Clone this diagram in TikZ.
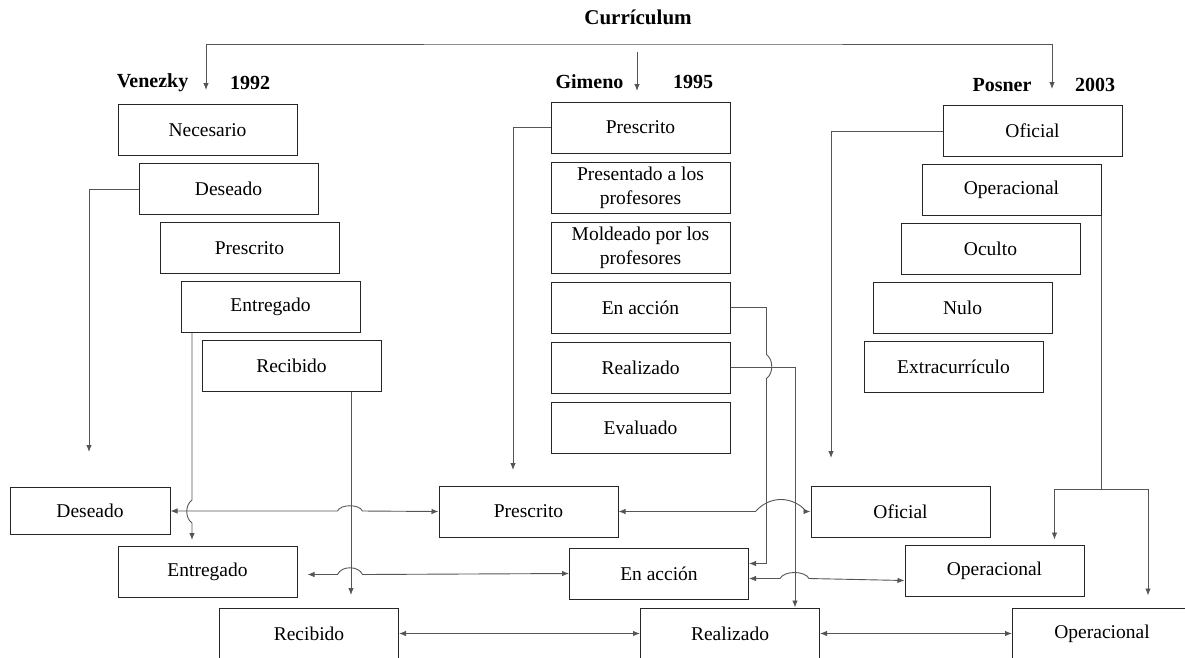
\documentclass[tikz,border=0pt]{standalone}
\usepackage{fontspec}
\setmainfont{Liberation Serif}
\usepackage{xcolor}
\definecolor{lineGray}{HTML}{555555}
\definecolor{boxBlack}{HTML}{262626}
\usepackage{tikz}
\usetikzlibrary{
    arrows.meta,
    positioning
}
\tikzset{
    % Stage boxes of every author column
    stage/.style={
        rectangle,
        draw=boxBlack,
        line width=1pt,
        minimum width=179pt,
        minimum height=51pt,
        align=center,
        inner sep=2pt,
        font=\fontsize{19.5}{24}\selectfont,
    },
    % Author and year headings
    author/.style={
        font=\bfseries\fontsize{20}{24}\selectfont,
        inner sep=0pt,
    },
    % Thin gray connector
    link/.style={
        draw=lineGray,
        line width=0.9pt,
        -{Latex[length=7pt,width=5.5pt]},
    },
    % Two-way connector
    link both/.style={
        link,
        {Latex[length=7pt,width=5.5pt]}-{Latex[length=7pt,width=5.5pt]},
    },
}

\begin{document}
\begin{tikzpicture}[x=1pt, y=-1pt, node distance=59pt]
    \useasboundingbox (0,0) rectangle (1185,657);

    \node (title) [font=\bfseries\fontsize{21}{24}\selectfont] at (638,17) {Currículum};
    \node (vzName) [author] at (152.5,83) {Venezky};
    \node (vzYear) [author] at (250,83) {1992};
    \node (gmName) [author] at (589.5,82) {Gimeno};
    \node (gmYear) [author] at (693,82) {1995};
    \node (psName) [author] at (1002,85) {Posner};
    \node (psYear) [author] at (1095,85) {2003};

    % Venezky column
    \node (vzNec) [stage] at (207.5,130) {Necesario};
    \node (vzDes) [stage, below of=vzNec, xshift=21pt] {Deseado};
    \node (vzPre) [stage, below of=vzDes, xshift=21pt] {Prescrito};
    \node (vzEnt) [stage, below of=vzPre, xshift=21pt] {Entregado};
    \node (vzRec) [stage, below of=vzEnt, xshift=21pt] {Recibido};

    % Gimeno column
    \node (gmPre) [stage] at (640.5,127.5) {Prescrito};
    \node (gmPro) [stage, node distance=60pt, below of=gmPre] {Presentado a los\\profesores};
    \node (gmMol) [stage, node distance=60pt, below of=gmPro] {Moldeado por los\\profesores};
    \node (gmAcc) [stage, node distance=60pt, below of=gmMol] {En acción};
    \node (gmRea) [stage, node distance=60pt, below of=gmAcc] {Realizado};
    \node (gmEva) [stage, node distance=60pt, below of=gmRea] {Evaluado};

    % Posner column
    \node (psOfi) [stage] at (1032.5,131) {Oficial};
    \node (psOpe) [stage, below of=psOfi, xshift=-21pt] {Operacional};
    \node (psOcu) [stage, below of=psOpe, xshift=-21pt] {Oculto};
    \node (psNul) [stage, below of=psOcu, xshift=-28pt] {Nulo};
    \node (psExt) [stage, below of=psNul, xshift=-9pt] {Extracurrículo};

    % Common rows
    \node (lowDes) [stage, minimum width=160pt, minimum height=47pt] at (90,511) {Deseado};
    \node (lowPre) [stage] at (528.5,511.5) {Prescrito};
    \node (lowOfi) [stage] at (900.5,511.5) {Oficial};
    \node (lowEnt) [stage] at (207.5,571.5) {Entregado};
    \node (lowAcc) [stage] at (659,573.5) {En acción};
    \node (lowOpe) [stage] at (994.5,570.5) {Operacional};
    \node (lowRec) [stage] at (309,633.5) {Recibido};
    \node (lowRea) [stage] at (730,633.5) {Realizado};
    \node (lowOpe2) [stage] at (1102,633.5) {Operacional};

    \coordinate (brTop) at (637,44);
    \coordinate (vzTip) at (206,90);
    \coordinate (psTip) at (1052,89);
    \coordinate (gmTail) at (637,52);
    \coordinate (gmTip) at (637,91);
    \coordinate (vzDesTip) at (89,452);
    \coordinate (vzEntTip) at (192,540);
    \coordinate (vzRecTip) at (351,595);
    \coordinate (gmPreTip) at (513,470);
    \coordinate (psOfiTip) at (831,458);
    \coordinate (psSplit) at (1101.5,489);

    \draw [link both] (vzTip) |- (brTop) -| (psTip);
    \draw [link] (gmTail) -- (gmTip);

    \draw [link] (vzDes.west) -| (vzDesTip);
    \draw [link] (vzEnt.south -| vzEntTip) -- ++(0,167) .. controls +(-7,5) and +(-7,-5) .. ++(0,23) -- (vzEntTip);
    \draw [link] (vzRec.south -| vzRecTip) -- (vzRecTip);

    \draw [link] (gmPre.west) -| (gmPreTip);
    \draw [link] (gmAcc.east) -- ++(36,0) -- ++(0,47) .. controls +(7,5) and +(7,-5) .. ++(0,24) |- ([yshift=10pt]lowAcc.east);
    \draw [link] (gmRea.east) -| ([xshift=65pt]lowRea.north);

    \draw [link] (psOfi.west) -| (psOfiTip);
    \draw [link, -] (psOpe.south east -| psSplit) -- (psSplit);
    \draw [link] (psSplit) -| ([xshift=-30pt,yshift=5pt]lowOpe.north east);
    \draw [link] (psSplit) -| ([xshift=136pt,yshift=12pt]lowOpe2.north west);

    \draw [link both] (lowDes.east) -- ++(167,0) .. controls +(3,-7) and +(-3,-7) .. ++(25,0) -- (lowPre.west);
    \draw [link both] ([xshift=10pt,yshift=-3pt]lowEnt.east) -- ++(30,0) .. controls +(4,-9) and +(-4,-9) .. ++(25,0) -- (lowAcc.west);
    \draw [link both] (lowRec.east) -- (lowRea.west);
    \draw [link both] (lowPre.east) -- ++(137,0) .. controls +(14,-16) and +(-14,-16) .. ++(51,0) -- (lowOfi.west);
    \draw [link both] ([yshift=-5pt]lowAcc.east) -- ++(31,0) .. controls +(4,-8) and +(-4,-8) .. ++(29,0) -- ([yshift=-10pt]lowOpe.west);
    \draw [link both] (lowRea.east) -- (lowOpe2.west);
\end{tikzpicture}
\end{document}
